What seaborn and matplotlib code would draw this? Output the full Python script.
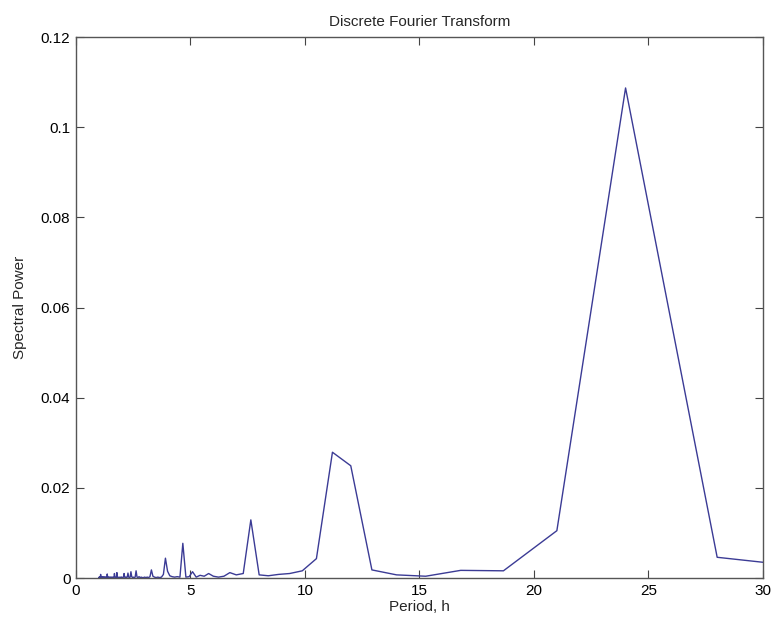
import numpy as np
import pandas as pd
import matplotlib
matplotlib.use("Agg")
import matplotlib.pyplot as plt
import seaborn as sns

# Record length (hours) and harmonic indices: period = record_hours / harmonic
record_hours = 168.0
harmonics = list(range(5, 169))

# Spectral power for harmonics 5..168
power = [
    # k = 5..14
    0.0015, 0.0046, 0.1087, 0.0105, 0.0016, 0.0017, 0.0004, 0.0007, 0.0018, 0.0249,
    # k = 15..24
    0.0279, 0.0043, 0.0016, 0.0010, 0.0008, 0.0005, 0.0007, 0.0129, 0.0010, 0.0007,
    # k = 25..34
    0.0012, 0.0004, 0.0002, 0.0004, 0.0010, 0.0004, 0.0006, 0.0002, 0.0014, 0.0003,
    # k = 35..44
    0.0002, 0.0077, 0.0002, 0.0003, 0.0002, 0.0003, 0.0005, 0.0015, 0.0044, 0.0008,
    # k = 45..54
    0.0002, 0.0001, 0.0002, 0.0001, 0.0002, 0.0004, 0.0018, 0.0003, 0.0001, 0.0002,
    # k = 55..64
    0.0001, 0.0002, 0.0001, 0.0001, 0.0002, 0.0001, 0.0003, 0.0001, 0.0002, 0.0016,
    # k = 65..74
    0.0002, 0.0001, 0.0002, 0.0001, 0.0003, 0.0014, 0.0002, 0.0001, 0.0002, 0.0011,
    # k = 75..84
    0.0002, 0.0001, 0.0002, 0.0001, 0.0002, 0.0010, 0.0002, 0.0001, 0.0001, 0.0002,
    # k = 85..94
    0.0001, 0.0002, 0.0001, 0.0001, 0.0002, 0.0001, 0.0001, 0.0002, 0.0001, 0.0012,
    # k = 95..104
    0.0002, 0.0001, 0.0001, 0.0002, 0.0003, 0.0010, 0.0002, 0.0001, 0.0001, 0.0002,
    # k = 105..114
    0.0001, 0.0001, 0.0002, 0.0001, 0.0001, 0.0002, 0.0001, 0.0001, 0.0002, 0.0001,
    # k = 115..124
    0.0001, 0.0002, 0.0001, 0.0001, 0.0002, 0.0001, 0.0002, 0.0003, 0.0009, 0.0002,
    # k = 125..134
    0.0001, 0.0001, 0.0002, 0.0001, 0.0001, 0.0002, 0.0001, 0.0001, 0.0002, 0.0001,
    # k = 135..144
    0.0001, 0.0002, 0.0001, 0.0001, 0.0002, 0.0001, 0.0001, 0.0002, 0.0001, 0.0001,
    # k = 145..154
    0.0002, 0.0001, 0.0001, 0.0002, 0.0001, 0.0001, 0.0002, 0.0001, 0.0001, 0.0002,
    # k = 155..164
    0.0003, 0.0008, 0.0002, 0.0001, 0.0001, 0.0002, 0.0001, 0.0001, 0.0002, 0.0001,
    # k = 165..168
    0.0001, 0.0002, 0.0001, 0.0001,
]

x_ticks = [0, 5, 10, 15, 20, 25, 30]
y_ticks = [0, 0.02, 0.04, 0.06, 0.08, 0.1, 0.12]
y_tick_labels = ["0", "0.02", "0.04", "0.06", "0.08", "0.1", "0.12"]

period = [record_hours / k for k in harmonics]
df = pd.DataFrame({"Period": period, "Power": power})

sns.set_style("white")
plt.rcParams["font.family"] = ["Liberation Sans", "DejaVu Sans"]

fig = plt.figure(figsize=(7.72, 6.2), dpi=100)
ax = fig.add_axes([0.0984, 0.0677, 0.8899, 0.8726])

sns.lineplot(data=df, x="Period", y="Power", sort=False, estimator=None,
             color="#3b3b95", linewidth=1.0, ax=ax)

ax.set_xlim(0, 30)
ax.set_ylim(0, 0.12)
ax.set_xticks(x_ticks)
ax.set_xticklabels([str(t) for t in x_ticks])
ax.set_yticks(y_ticks)
ax.set_yticklabels(y_tick_labels)

ax.tick_params(direction="in", length=6, width=0.8, colors="#444444",
               labelcolor="black", labelsize=11, top=True, right=True,
               bottom=True, left=True, pad=4)
for s in ax.spines.values():
    s.set_visible(True)
    s.set_color("#555555")
    s.set_linewidth(1.0)

ax.set_title("Discrete Fourier Transform", fontsize=11, pad=8)
ax.set_xlabel("Period, h", fontsize=11, labelpad=2)
ax.set_ylabel("Spectral Power", fontsize=11, labelpad=10)

fig.savefig("out.png", dpi=100, facecolor="white")
